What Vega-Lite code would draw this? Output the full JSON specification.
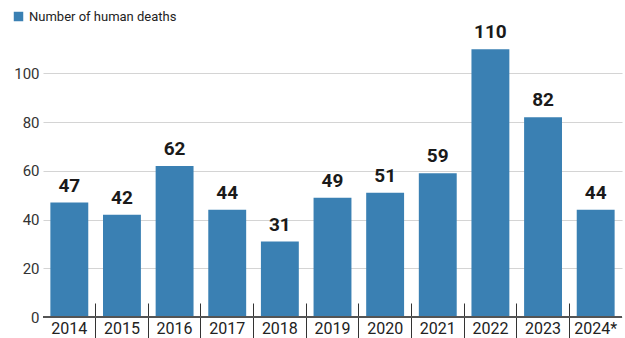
{
  "$schema": "https://vega.github.io/schema/vega-lite/v6.json",
  "autosize": {"type": "none"},
  "width": 579,
  "height": 291,
  "padding": {"left": 43, "top": 26, "right": 3, "bottom": 21},
  "background": "white",
  "config": {"view": {"stroke": null}, "font": "Roboto"},
  "data": {
    "values": [
      {"year": "2014", "deaths": 47, "series": "Number of human deaths"},
      {"year": "2015", "deaths": 42, "series": "Number of human deaths"},
      {"year": "2016", "deaths": 62, "series": "Number of human deaths"},
      {"year": "2017", "deaths": 44, "series": "Number of human deaths"},
      {"year": "2018", "deaths": 31, "series": "Number of human deaths"},
      {"year": "2019", "deaths": 49, "series": "Number of human deaths"},
      {"year": "2020", "deaths": 51, "series": "Number of human deaths"},
      {"year": "2021", "deaths": 59, "series": "Number of human deaths"},
      {"year": "2022", "deaths": 110, "series": "Number of human deaths"},
      {"year": "2023", "deaths": 82, "series": "Number of human deaths"},
      {"year": "2024*", "deaths": 44, "series": "Number of human deaths"}
    ]
  },
  "encoding": {
    "x": {
      "field": "year", "type": "nominal", "sort": null,
      "scale": {"paddingInner": 0.28, "paddingOuter": 0.14},
      "axis": {
        "title": null, "labelAngle": 0, "domain": false,
        "bandPosition": -0.194, "offset": -14, "tickSize": 40, "tickWidth": 1,
        "tickColor": {"condition": {"test": "datum.value === '2014'", "value": "transparent"}, "value": "#333"},
        "labelPadding": -23, "labelFontSize": 16, "labelColor": "#222", "labelFont": "Roboto"
      }
    },
    "y": {
      "field": "deaths", "type": "quantitative",
      "scale": {"domain": [0, 119.5], "nice": false},
      "axis": {
        "title": null, "values": [0, 20, 40, 60, 80, 100], "domain": false, "ticks": false,
        "gridColor": "#d4d4d4", "gridWidth": 1.2, "labelFontSize": 15, "labelColor": "#333",
        "labelPadding": 4, "labelFont": "Roboto"
      }
    }
  },
  "layer": [
    {
      "mark": {"type": "bar", "color": "#3a80b3"},
      "encoding": {
        "color": {
          "field": "series", "type": "nominal",
          "scale": {"range": ["#3a80b3"]},
          "legend": {
            "title": null, "orient": "none", "legendX": -31, "legendY": -16,
            "symbolType": "square", "symbolSize": 90, "symbolStrokeWidth": 0,
            "labelFontSize": 13, "labelColor": "#222", "labelFont": "Roboto", "padding": 0
          }
        }
      }
    },
    {
      "mark": {"type": "rule", "color": "#555", "strokeWidth": 1.5},
      "encoding": {"y": {"datum": 0}, "x": null}
    },
    {
      "mark": {"type": "text", "baseline": "bottom", "dy": -7, "fontSize": 19, "fontWeight": "bold", "color": "#1a1a1a", "font": "Roboto"},
      "encoding": {"text": {"field": "deaths", "type": "quantitative"}}
    }
  ]
}
